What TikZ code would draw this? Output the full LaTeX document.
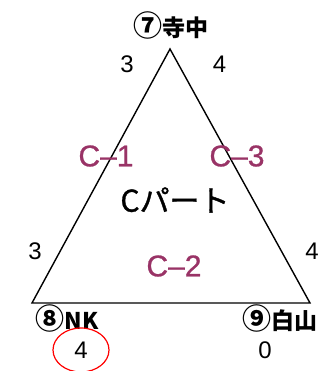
\documentclass[tikz,border=0pt]{standalone}
\usepackage{fontspec}
\setmainfont{Liberation Sans}
\newfontfamily\cjk{Noto Sans CJK JP}
\newfontfamily\cjkfb{Noto Sans CJK JP}[FakeBold=1.2]
\newfontfamily\partfont{Liberation Sans}[FakeBold=0.8]
\newcommand{\circd}[1]{{\fontsize{29}{29}\selectfont#1}}
\definecolor{cmag}{RGB}{153,51,102}
\begin{document}
\begin{tikzpicture}[x=1pt,y=-1pt,
  num/.style={inner sep=0pt,font=\fontsize{24}{24}\selectfont},
  part/.style={inner sep=0pt,text=cmag,font=\partfont\fontsize{30}{30}\selectfont},
  vname/.style={inner sep=0pt,font=\cjk\bfseries\fontsize{23}{23}\selectfont},
  edge/.style={line width=1.4pt,line join=miter}]
\useasboundingbox (0,0) rectangle (324,371);
\coordinate (top) at (170,49);
\coordinate (bl) at (32,303);
\coordinate (br) at (310,303);
\draw[edge] (top) -- (br) -- (bl) -- cycle;
\node[vname] (v7) at (171,25) {\circd{⑦}寺中};
\node[vname] (v8) at (67,318) {\circd{⑧}NK};
\node[vname] (v9) at (280,318) {\circd{⑨}白山};
\node[num] (t3) at (127,64) {3};
\node[num] (t4) at (219.5,64) {4};
\node[num] (l3) at (35,251) {3};
\node[num] (r4) at (312,251) {4};
\node[num] (b4) at (81,350) {4};
\node[num] (b0) at (265,350) {0};
\node[part] (c1) at (106,156) {C–1};
\node[part] (c3) at (237,156) {C–3};
\node[part] (c2) at (174,266) {C–2};
\node[inner sep=0pt,font=\cjkfb\fontsize{30}{30}\selectfont] (cp) at (175,200) {Cパート};
\draw[red,line width=1.2pt] (b4) ellipse [x radius=28pt,y radius=22pt];
\end{tikzpicture}
\end{document}
